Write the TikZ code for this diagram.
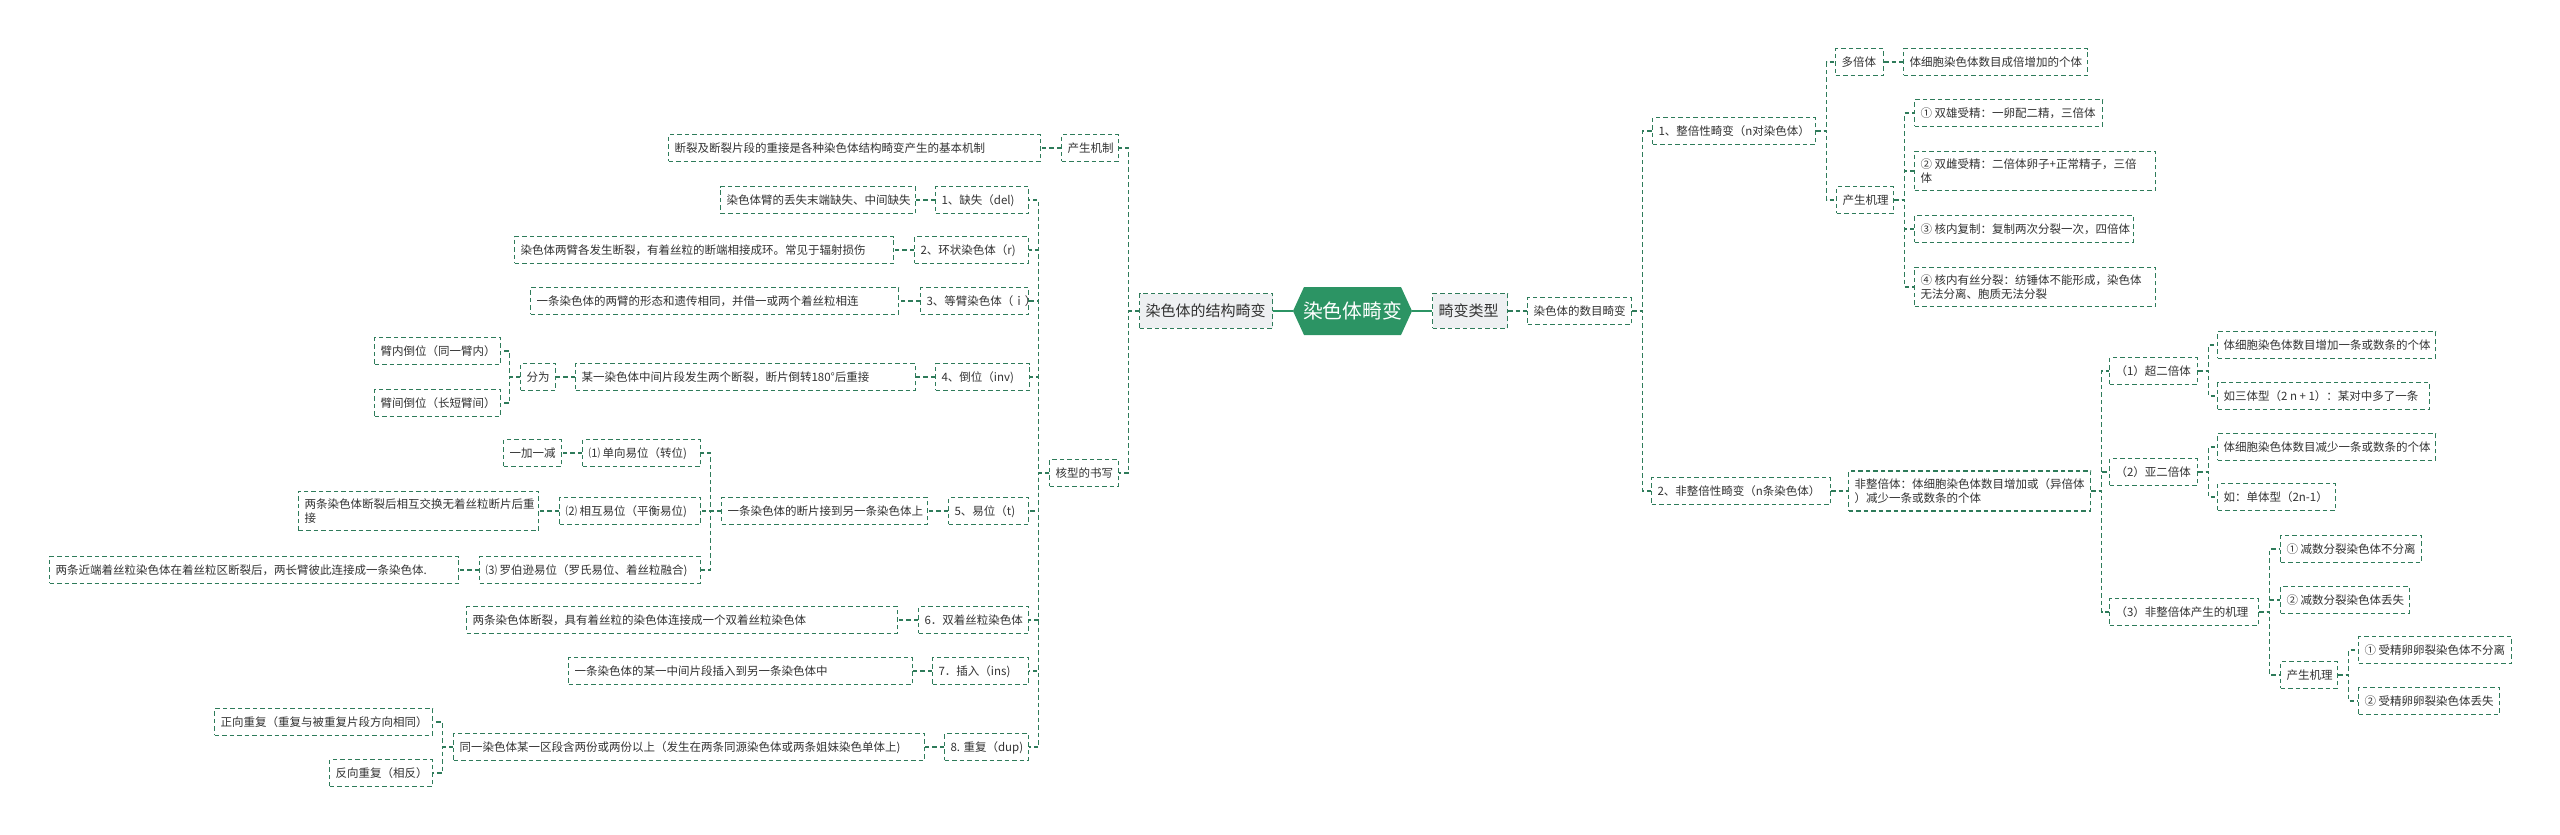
\documentclass[tikz,border=0pt]{standalone}
\usepackage{fontspec}
\setmainfont{Noto Sans CJK SC}
\definecolor{lc}{HTML}{2E7B5A}
\definecolor{rootc}{HTML}{2C9464}
\definecolor{tc}{HTML}{333333}
\definecolor{lvf}{HTML}{EEF0F2}
\newcommand{\mmbox}[2]{\makebox[#1pt][l]{#2}}
\newcommand{\fsa}{\fontsize{11.5pt}{14pt}\selectfont}
\newcommand{\fsb}{\fontsize{15pt}{18pt}\selectfont}
\newcommand{\fsc}{\fontsize{19.8pt}{23pt}\selectfont}
\tikzset{
  bx/.style={draw=lc, line width=1.1pt, dash pattern=on 4.5pt off 3pt, fill=white,
    inner xsep=6pt, inner ysep=0pt, text height=17.6pt, text depth=8.9pt,
    font=\fsa, text=tc, anchor=west},
  bxtwo/.style={draw=lc, line width=1.1pt, dash pattern=on 4.5pt off 3pt, fill=white,
    inner xsep=6pt, inner ysep=7.5pt, font=\fsa, text=tc, align=left, anchor=west},
  lvone/.style={draw=lc, line width=1.1pt, dash pattern=on 4.5pt off 3pt, fill=lvf,
    inner xsep=6pt, inner ysep=0pt, text height=23pt, text depth=11.5pt,
    font=\fsb, text=tc, anchor=west},
  ln/.style={draw=lc, line width=1.1pt, dash pattern=on 4.5pt off 3pt},
  rootln/.style={draw=rootc, line width=2pt},
}
\begin{document}
\begin{tikzpicture}[x=1pt,y=-1pt]
\useasboundingbox (0,0) rectangle (2560,835);

% root hexagon
\fill[rootc] (1293,311) -- (1304,287) -- (1401,287) -- (1412,311) -- (1401,335) -- (1304,335) -- cycle;
\node[inner sep=0pt, minimum width=119pt, minimum height=48pt, text height=18pt, text depth=3.2pt, font=\fsc, text=white] (root) at (1352.5,311) {染色体畸变};

% level 1
\node[lvone] (struct) at (1139,311) {\mmbox{121}{染色体的结构畸变}};
\node[lvone] (jtype) at (1432,311) {\mmbox{63}{畸变类型}};
\node[bx] (numb) at (1527,311) {\mmbox{92}{染色体的数目畸变}};

% left side
\node[bx] (mech) at (1061,148) {\mmbox{45}{产生机制}};
\node[bx] (mechd) at (668,148) {\mmbox{360}{断裂及断裂片段的重接是各种染色体结构畸变产生的基本机制}};
\node[bx] (kary) at (1049,473) {\mmbox{57}{核型的书写}};

\node[bx] (i1) at (935,200) {\mmbox{81}{1、缺失（del)}};
\node[bx] (i1d) at (720,200) {\mmbox{183}{染色体臂的丢失末端缺失、中间缺失}};
\node[bx] (i2) at (914,250) {\mmbox{102}{2、环状染色体（r)}};
\node[bx] (i2d) at (514,250) {\mmbox{367}{染色体两臂各发生断裂，有着丝粒的断端相接成环。常见于辐射损伤}};
\node[bx] (i3) at (920,301) {\mmbox{96}{3、等臂染色体（ｉ）}};
\node[bx] (i3d) at (530,301) {\mmbox{356}{一条染色体的两臂的形态和遗传相同，并借一或两个着丝粒相连}};
\node[bx] (i4) at (935,377) {\mmbox{82}{4、倒位（inv)}};
\node[bx] (i4d) at (575,377) {\mmbox{328}{某一染色体中间片段发生两个断裂，断片倒转180°后重接}};
\node[bx] (fen) at (520,377) {\mmbox{23}{分为}};
\node[bx] (inva) at (374,351) {\mmbox{114}{臂内倒位（同一臂内）}};
\node[bx] (invb) at (374,403) {\mmbox{114}{臂间倒位（长短臂间）}};
\node[bx] (i5) at (948,511) {\mmbox{68}{5、易位（t)}};
\node[bx] (i5d) at (721,511) {\mmbox{194}{一条染色体的断片接到另一条染色体上}};
\node[bx] (ta) at (582,453) {\mmbox{106}{⑴ 单向易位（转位)}};
\node[bx] (tad) at (503,453) {\mmbox{46}{一加一减}};
\node[bx] (tb) at (559,511) {\mmbox{129}{⑵ 相互易位（平衡易位)}};
\node[bxtwo] (tbd) at (298,511) {\mmbox{228}{两条染色体断裂后相互交换无着丝粒断片后重}\\\mmbox{228}{接}};
\node[bx] (tc) at (479,570) {\mmbox{209}{⑶ 罗伯逊易位（罗氏易位、着丝粒融合)}};
\node[bx] (tcd) at (49,570) {\mmbox{397}{两条近端着丝粒染色体在着丝粒区断裂后，两长臂彼此连接成一条染色体.}};
\node[bx] (i6) at (918,620) {\mmbox{98}{6．双着丝粒染色体}};
\node[bx] (i6d) at (466,620) {\mmbox{419}{两条染色体断裂，具有着丝粒的染色体连接成一个双着丝粒染色体}};
\node[bx] (i7) at (932,671) {\mmbox{84}{7．插入（ins)}};
\node[bx] (i7d) at (568,671) {\mmbox{332}{一条染色体的某一中间片段插入到另一条染色体中}};
\node[bx] (i8) at (944,747) {\mmbox{72}{8. 重复（dup)}};
\node[bx] (i8d) at (453,747) {\mmbox{459}{同一染色体某一区段含两份或两份以上（发生在两条同源染色体或两条姐妹染色单体上)}};
\node[bx] (da) at (214,722) {\mmbox{206}{正向重复（重复与被重复片段方向相同）}};
\node[bx] (db) at (329,773) {\mmbox{91}{反向重复（相反）}};

% right side
\node[bx] (na) at (1652,131) {\mmbox{151}{1、整倍性畸变（n对染色体）}};
\node[bx] (poly) at (1835,62) {\mmbox{36}{多倍体}};
\node[bx] (polyd) at (1903,62) {\mmbox{172}{体细胞染色体数目成倍增加的个体}};
\node[bx] (mechb) at (1836,200) {\mmbox{45}{产生机理}};
\node[bx] (ma) at (1914,113) {\mmbox{176}{① 双雄受精：一卵配二精，三倍体}};
\node[bxtwo] (mb) at (1914,171) {\mmbox{229}{② 双雌受精：二倍体卵子+正常精子，三倍}\\\mmbox{229}{体}};
\node[bx] (mc) at (1914,229) {\mmbox{207}{③ 核内复制：复制两次分裂一次，四倍体}};
\node[bxtwo] (md) at (1914,287) {\mmbox{229}{④ 核内有丝分裂：纺锤体不能形成，染色体}\\\mmbox{229}{无法分离、胞质无法分裂}};
\node[bx] (nb) at (1651,491) {\mmbox{167}{2、非整倍性畸变（n条染色体）}};
\node[bxtwo] (nbd) at (1848,491) {\mmbox{230}{非整倍体：体细胞染色体数目增加或（异倍体}\\\mmbox{230}{）减少一条或数条的个体}};
\node[bx] (aa) at (2109,371) {\mmbox{76}{（1）超二倍体}};
\node[bx] (aaa) at (2217,345) {\mmbox{206}{体细胞染色体数目增加一条或数条的个体}};
\node[bx] (aab) at (2217,396) {\mmbox{200}{如三体型（2 n + 1）：某对中多了一条}};
\node[bx] (ab) at (2109,472) {\mmbox{76}{（2）亚二倍体}};
\node[bx] (aba) at (2217,447) {\mmbox{206}{体细胞染色体数目减少一条或数条的个体}};
\node[bx] (abb) at (2217,497) {\mmbox{106}{如：单体型（2n-1）}};
\node[bx] (ac) at (2109,612) {\mmbox{137}{（3）非整倍体产生的机理}};
\node[bx] (aca) at (2280,549) {\mmbox{129}{① 减数分裂染色体不分离}};
\node[bx] (acb) at (2280,600) {\mmbox{117}{② 减数分裂染色体丢失}};
\node[bx] (acc) at (2280,675) {\mmbox{45}{产生机理}};
\node[bx] (ca) at (2358,650) {\mmbox{141}{① 受精卵卵裂染色体不分离}};
\node[bx] (cb) at (2358,701) {\mmbox{129}{② 受精卵卵裂染色体丢失}};

% connectors
\draw[rootln] (root.west) -- (struct.east);
\draw[rootln] (root.east) -- (jtype.west);
\draw[ln] (jtype.east) -- (numb.west);

\foreach \c in {mech,kary} \draw[ln] (struct.west) -- ++(-10.5,0) |- (\c.east);
\draw[ln] (mech.west) -- (mechd.east);
\foreach \c in {i1,i2,i3,i4,i5,i6,i7,i8} \draw[ln] (kary.west) -- ++(-10.5,0) |- (\c.east);
\draw[ln] (i1.west) -- (i1d.east);
\draw[ln] (i2.west) -- (i2d.east);
\draw[ln] (i3.west) -- (i3d.east);
\draw[ln] (i4.west) -- (i4d.east);
\draw[ln] (i4d.west) -- (fen.east);
\foreach \c in {inva,invb} \draw[ln] (fen.west) -- ++(-10.5,0) |- (\c.east);
\draw[ln] (i5.west) -- (i5d.east);
\foreach \c in {ta,tb,tc} \draw[ln] (i5d.west) -- ++(-10.5,0) |- (\c.east);
\draw[ln] (ta.west) -- (tad.east);
\draw[ln] (tb.west) -- (tbd.east);
\draw[ln] (tc.west) -- (tcd.east);
\draw[ln] (i6.west) -- (i6d.east);
\draw[ln] (i7.west) -- (i7d.east);
\draw[ln] (i8.west) -- (i8d.east);
\foreach \c in {da,db} \draw[ln] (i8d.west) -- ++(-10.5,0) |- (\c.east);

\foreach \c in {na,nb} \draw[ln] (numb.east) -- ++(10.5,0) |- (\c.west);
\foreach \c in {poly,mechb} \draw[ln] (na.east) -- ++(10.5,0) |- (\c.west);
\draw[ln] (poly.east) -- (polyd.west);
\foreach \c in {ma,mb,mc,md} \draw[ln] (mechb.east) -- ++(10.5,0) |- (\c.west);
\draw[ln] (nb.east) -- (nbd.west);
\foreach \c in {aa,ab,ac} \draw[ln] (nbd.east) -- ++(10.5,0) |- (\c.west);
\foreach \c in {aaa,aab} \draw[ln] (aa.east) -- ++(10.5,0) |- (\c.west);
\foreach \c in {aba,abb} \draw[ln] (ab.east) -- ++(10.5,0) |- (\c.west);
\foreach \c in {aca,acb,acc} \draw[ln] (ac.east) -- ++(10.5,0) |- (\c.west);
\foreach \c in {ca,cb} \draw[ln] (acc.east) -- ++(10.5,0) |- (\c.west);
\end{tikzpicture}
\end{document}
